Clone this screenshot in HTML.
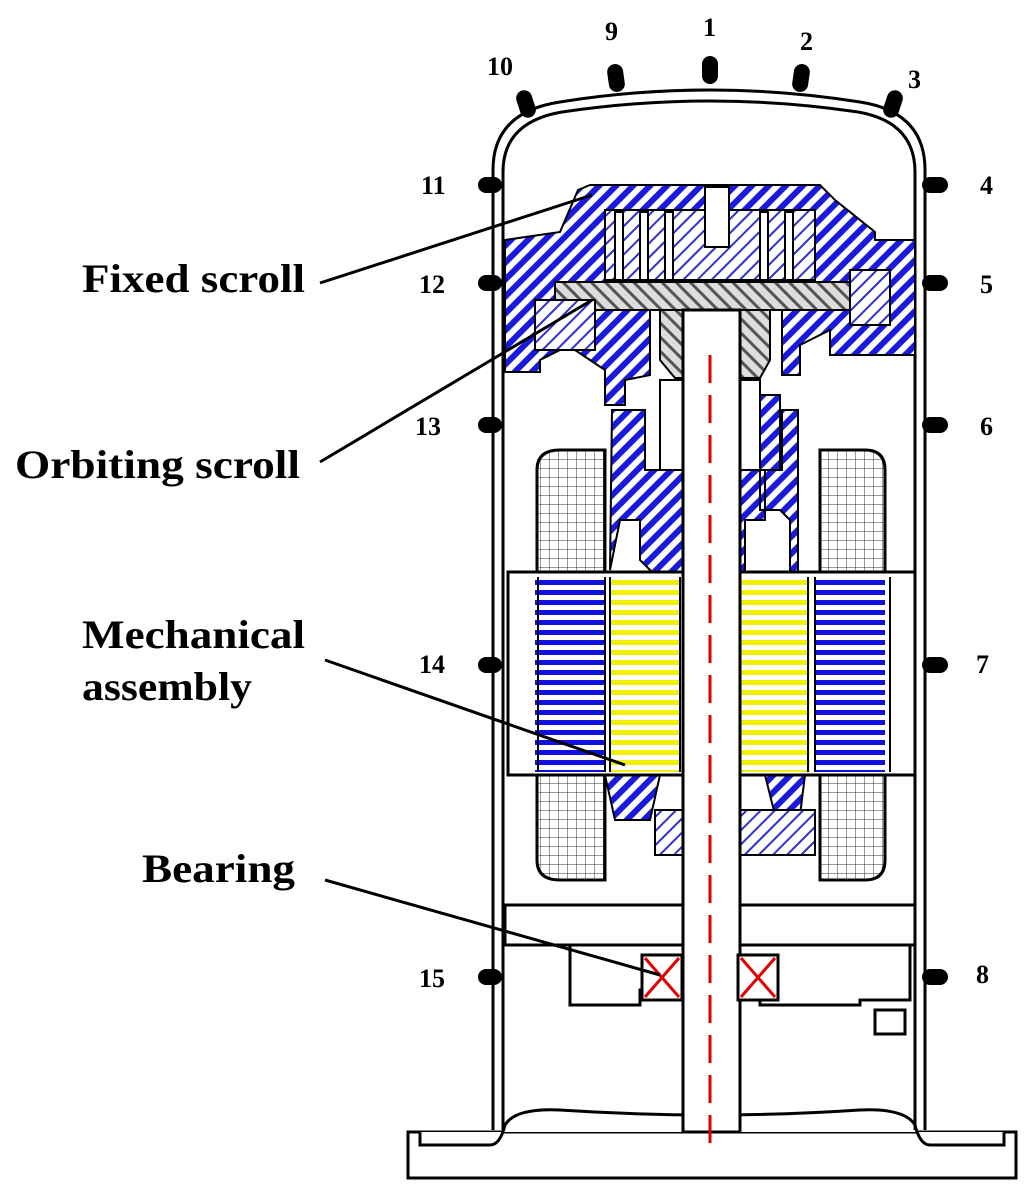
<!DOCTYPE html>
<html><head><meta charset="utf-8"><style>
html,body{margin:0;padding:0;background:#fff;}
svg{display:block;}
.lbl{font-family:"Liberation Serif",serif;font-weight:bold;font-size:40px;fill:#000;}
.num{font-family:"Liberation Serif",serif;font-weight:bold;font-size:26px;fill:#000;}
</style></head><body>
<svg width="1024" height="1194" viewBox="0 0 1024 1194">
<defs>
<pattern id="hb" width="12" height="12" patternUnits="userSpaceOnUse" patternTransform="rotate(-45)"><rect width="12" height="12" fill="#fff"/><rect width="12" height="6" fill="#1a1adc"/></pattern>
<pattern id="hl" width="10" height="10" patternUnits="userSpaceOnUse" patternTransform="rotate(-45)"><rect width="10" height="10" fill="#fff"/><rect width="10" height="2" fill="#3030d0"/></pattern>
<pattern id="hg" width="10" height="10" patternUnits="userSpaceOnUse" patternTransform="rotate(45)"><rect width="10" height="10" fill="#ddd"/><rect width="10" height="3" fill="#555"/></pattern>
<pattern id="grid" width="9" height="9" patternUnits="userSpaceOnUse"><rect width="9" height="9" fill="#fff"/><path d="M0 0H9M0 0V9" stroke="#333" stroke-width="1"/></pattern>
<pattern id="sb" width="10" height="10" patternUnits="userSpaceOnUse"><rect width="10" height="10" fill="#fff"/><rect width="10" height="5" fill="#1010e0"/></pattern>
<pattern id="sy" width="10" height="10" patternUnits="userSpaceOnUse"><rect width="10" height="10" fill="#fff"/><rect width="10" height="5" fill="#f0f000"/></pattern>
</defs>

<g>
<rect x="408" y="1132" width="608" height="46" fill="#fff" stroke="#000" stroke-width="3"/>
<path d="M420 1132V1145H490Q500 1145 505 1125Q515 1108 560 1110Q710 1120 860 1110Q905 1108 915 1125Q920 1145 930 1145H1004V1132" fill="#fff" stroke="#000" stroke-width="3"/>
</g>

<g fill="none" stroke="#000" stroke-width="3">
<path d="M493 1130V170Q493 112 560 102Q710 78 860 102Q925 112 925 170V1130"/>
<path d="M503 1130V172Q503 122 562 112Q710 90 858 112Q915 122 915 172V1130"/>
</g>

<g fill="#000">
<rect x="478" y="177" width="24" height="16" rx="8"/><rect x="478" y="275" width="24" height="16" rx="8"/>
<rect x="478" y="417" width="24" height="16" rx="8"/><rect x="478" y="657" width="24" height="16" rx="8"/>
<rect x="478" y="969" width="24" height="16" rx="8"/>
<rect x="922" y="177" width="26" height="16" rx="8"/><rect x="922" y="275" width="26" height="16" rx="8"/>
<rect x="922" y="417" width="26" height="16" rx="8"/><rect x="922" y="657" width="26" height="16" rx="8"/>
<rect x="922" y="969" width="26" height="16" rx="8"/>
<rect x="702" y="56" width="16" height="28" rx="8"/>
<rect x="608" y="64" width="16" height="28" rx="8" transform="rotate(-8 616 78)"/>
<rect x="793" y="64" width="16" height="28" rx="8" transform="rotate(8 801 78)"/>
<rect x="518" y="90" width="16" height="28" rx="8" transform="rotate(-18 526 104)"/>
<rect x="885" y="90" width="16" height="28" rx="8" transform="rotate(18 893 104)"/>
</g>

<g>
<text class="num" x="487" y="75">10</text><text class="num" x="605" y="40">9</text>
<text class="num" x="703" y="36">1</text><text class="num" x="800" y="50">2</text>
<text class="num" x="908" y="88">3</text>
<text class="num" x="421" y="194">11</text><text class="num" x="419" y="293">12</text>
<text class="num" x="415" y="435">13</text><text class="num" x="419" y="673">14</text>
<text class="num" x="419" y="987">15</text>
<text class="num" x="980" y="194">4</text><text class="num" x="980" y="293">5</text>
<text class="num" x="980" y="435">6</text><text class="num" x="976" y="673">7</text>
<text class="num" x="976" y="983">8</text>
</g>

<g stroke="#000" stroke-width="3">
<path d="M537 470Q537 450 560 450H605V575H537Z" fill="url(#grid)"/>
<path d="M820 575V450H865Q885 450 885 470V575Z" fill="url(#grid)"/>
<path d="M537 775H605V880H560Q537 880 537 860Z" fill="url(#grid)"/>
<path d="M820 775H885V860Q885 880 865 880H820Z" fill="url(#grid)"/>
</g>

<g stroke="#000" stroke-width="2">
<path d="M578 190L590 185H820L835 200L875 232V240H915V355H830V330L800 345V375H782V310H650V375L625 380V405H605V370L575 350H560L540 360V372H505V240L560 232Z" fill="url(#hb)"/>
<rect x="605" y="210" width="210" height="70" fill="url(#hl)"/>
<rect x="705" y="187" width="24" height="60" fill="#fff"/>
<rect x="615" y="212" width="8" height="68" fill="#fff"/><rect x="640" y="212" width="8" height="68" fill="#fff"/>
<rect x="665" y="212" width="8" height="68" fill="#fff"/><rect x="760" y="212" width="8" height="68" fill="#fff"/>
<rect x="785" y="212" width="8" height="68" fill="#fff"/>
</g>

<g stroke="#000" stroke-width="2">
<rect x="555" y="282" width="335" height="28" fill="url(#hg)"/>
<path d="M660 310H770V360L760 378H675L660 360Z" fill="url(#hg)"/>
<rect x="850" y="270" width="40" height="55" fill="url(#hl)"/>
<rect x="535" y="300" width="60" height="50" fill="url(#hl)"/>
</g>

<g stroke="#000" stroke-width="2">
<path d="M612 410H645V470H760V395H780V470H765V520H745V580H790V520L780 510H760V470H782V410H798V575H775L770 580H660L640 560V520L620 520L610 570Z" fill="url(#hb)"/>
<rect x="660" y="380" width="100" height="90" fill="#fff"/>
<path d="M605 775H660L650 820H615Z" fill="url(#hb)"/>
<path d="M765 775H805L800 815H775Z" fill="url(#hb)"/>
<rect x="655" y="810" width="160" height="45" fill="url(#hl)"/>
</g>

<g stroke="#000" stroke-width="3">
<rect x="508" y="572" width="407" height="203" fill="#fff"/>
<rect x="535" y="577" width="70" height="195" fill="url(#sb)" stroke="none"/>
<rect x="610" y="577" width="70" height="195" fill="url(#sy)" stroke="none"/>
<rect x="740" y="577" width="70" height="195" fill="url(#sy)" stroke="none"/>
<rect x="815" y="577" width="70" height="195" fill="url(#sb)" stroke="none"/>
<path d="M538 577V772M605 577V772M610 577V772M680 577V772M740 577V772M808 577V772M815 577V772M890 577V772" stroke-width="2"/>
</g>

<g fill="#fff" stroke="#000" stroke-width="3">
<rect x="505" y="905" width="410" height="40" />
<path d="M555 945H910V1000H860V1005H760V990H640V1005H570V945Z"/>
<rect x="875" y="1010" width="30" height="24"/>
</g>

<g>
<rect x="683" y="310" width="57" height="822" fill="#fff" stroke="#000" stroke-width="3"/>
<line x1="710" y1="355" x2="710" y2="1145" stroke="#e00000" stroke-width="3" stroke-dasharray="28,12"/>
</g>

<g fill="#fff" stroke="#e00000" stroke-width="3">
<rect x="642" y="955" width="40" height="45" stroke="#000"/>
<path d="M645 958L679 997M679 958L645 997"/>
<rect x="738" y="955" width="40" height="45" stroke="#000"/>
<path d="M741 958L775 997M775 958L741 997"/>
</g>

<g stroke="#000" stroke-width="3">
<line x1="320" y1="283" x2="592" y2="195"/>
<line x1="320" y1="462" x2="592" y2="300"/>
<line x1="325" y1="660" x2="625" y2="765"/>
<line x1="325" y1="880" x2="660" y2="975"/>
</g>

<text class="lbl" x="82" y="292" textLength="223" lengthAdjust="spacingAndGlyphs">Fixed scroll</text>
<text class="lbl" x="15" y="478" textLength="285" lengthAdjust="spacingAndGlyphs">Orbiting scroll</text>
<text class="lbl" x="82" y="648" textLength="223" lengthAdjust="spacingAndGlyphs">Mechanical</text>
<text class="lbl" x="82" y="700" textLength="170" lengthAdjust="spacingAndGlyphs">assembly</text>
<text class="lbl" x="142" y="882" textLength="153" lengthAdjust="spacingAndGlyphs">Bearing</text>
</svg>
</body></html>
